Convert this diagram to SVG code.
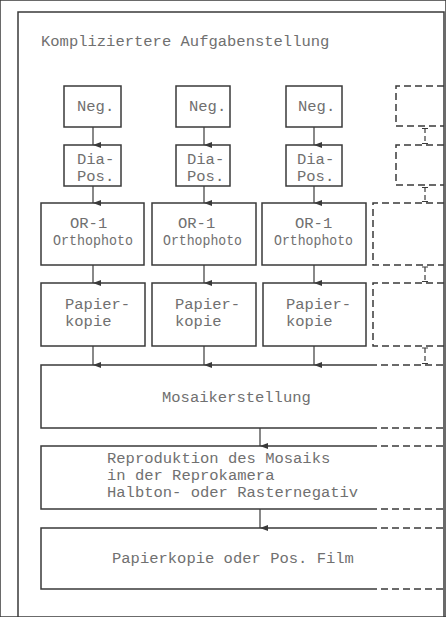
<svg xmlns="http://www.w3.org/2000/svg" width="446" height="617" viewBox="0 0 446 617">
<defs>
<marker id="ah" viewBox="0 0 6 8" refX="3" refY="8" markerWidth="6" markerHeight="8" markerUnits="userSpaceOnUse" orient="auto-start-reverse">
<path d="M0,0 L6,0 L3,8 Z" fill="#3a3a3a"/>
</marker>
<style>
rect, .solid { fill: none; stroke: #3a3a3a; stroke-width: 1.5; }
.dash { fill: none; stroke: #3a3a3a; stroke-width: 1.5; stroke-dasharray: 7 4; }
.tick { fill: none; stroke: #3a3a3a; stroke-width: 1.2; }
.arrow { fill: none; stroke: #3a3a3a; stroke-width: 1.2; }
text { font-family: "Liberation Mono", "Courier New", monospace; font-size: 15.5px; fill: #707070; }
</style>
</defs>
<rect x="0" y="0" width="446" height="617" fill="#fff" stroke="none"/>
<path class="solid" d="M18,617 V12 H444 V617"/>
<text id="title" x="41" y="46">Kompliziertere Aufgabenstellung</text>

<g id="neg1"><rect x="64" y="86" width="57" height="41"/><text x="77" y="111">Neg.</text></g>
<g id="neg2"><rect x="176" y="86" width="54" height="41"/><text x="189" y="111">Neg.</text></g>
<g id="neg3"><rect x="286" y="86" width="56" height="41"/><text x="298" y="111">Neg.</text></g>
<g id="neg4"><path class="dash" d="M444,86 H396 V126 H444"/></g>

<g id="dia1"><rect x="64" y="145" width="57" height="41"/><text x="77" y="164">Dia-</text><text x="77" y="181">Pos.</text></g>
<g id="dia2"><rect x="176" y="145" width="54" height="41"/><text x="187" y="164">Dia-</text><text x="187" y="181">Pos.</text></g>
<g id="dia3"><rect x="286" y="145" width="56" height="41"/><text x="297" y="164">Dia-</text><text x="297" y="181">Pos.</text></g>
<g id="dia4"><path class="dash" d="M444,145 H396 V185 H444"/></g>

<g id="or1"><rect x="41" y="203" width="103" height="62"/><text x="70" y="228">OR-1</text><text x="53" y="245" textLength="80" lengthAdjust="spacingAndGlyphs">Orthophoto</text></g>
<g id="or2"><rect x="152" y="203" width="104" height="62"/><text x="178" y="228">OR-1</text><text x="163" y="245" textLength="79" lengthAdjust="spacingAndGlyphs">Orthophoto</text></g>
<g id="or3"><rect x="262" y="203" width="104" height="62"/><text x="295" y="228">OR-1</text><text x="274" y="245" textLength="79" lengthAdjust="spacingAndGlyphs">Orthophoto</text></g>
<g id="or4"><path class="dash" d="M444,203 H373 V265 H444"/></g>

<g id="pap1"><rect x="41" y="283" width="104" height="63"/><text x="65" y="309">Papier-</text><text x="65" y="326">kopie</text></g>
<g id="pap2"><rect x="152" y="283" width="104" height="63"/><text x="175" y="309">Papier-</text><text x="175" y="326">kopie</text></g>
<g id="pap3"><rect x="263" y="283" width="103" height="63"/><text x="286" y="309">Papier-</text><text x="286" y="326">kopie</text></g>
<g id="pap4"><path class="dash" d="M444,283 H373 V346 H444"/></g>

<g id="mosaik"><path class="solid" d="M370,365 H41 V428 H370"/><path class="dash" d="M370,365 H444 M370,428 H444"/><text x="162" y="402">Mosaikerstellung</text></g>
<g id="repro"><path class="solid" d="M370,446 H41 V509 H370"/><path class="dash" d="M370,446 H444 M370,509 H444"/><text x="107" y="463">Reproduktion des Mosaiks</text><text x="107" y="480">in der Reprokamera</text><text x="107" y="497">Halbton- oder Rasternegativ</text></g>
<g id="film"><path class="solid" d="M370,528 H41 V589 H370"/><path class="dash" d="M370,528 H444 M370,589 H444"/><text x="112" y="563">Papierkopie oder Pos. Film</text></g>

<g id="connectors">
<path class="arrow" marker-end="url(#ah)" d="M93,127 V145"/>
<path class="arrow" marker-end="url(#ah)" d="M204,127 V145"/>
<path class="arrow" marker-end="url(#ah)" d="M314,127 V145"/>
<path class="arrow" marker-end="url(#ah)" d="M93,186 V203"/>
<path class="arrow" marker-end="url(#ah)" d="M204,186 V203"/>
<path class="arrow" marker-end="url(#ah)" d="M314,186 V203"/>
<path class="arrow" marker-end="url(#ah)" d="M93,265 V283"/>
<path class="arrow" marker-end="url(#ah)" d="M204,265 V283"/>
<path class="arrow" marker-end="url(#ah)" d="M314,265 V283"/>
<path class="arrow" marker-end="url(#ah)" d="M93,346 V365"/>
<path class="arrow" marker-end="url(#ah)" d="M204,346 V365"/>
<path class="arrow" marker-end="url(#ah)" d="M314,346 V365"/>
<path class="arrow" marker-end="url(#ah)" d="M260,428 V446"/>
<path class="arrow" marker-end="url(#ah)" d="M260,509 V528"/>
<path class="tick" stroke-dasharray="5 3" d="M425,128 V144"/>
<path class="tick" d="M422,128.5 H428 M422,143.5 H428"/>
<path class="tick" stroke-dasharray="5 3" d="M425,187 V202"/>
<path class="tick" d="M422,187.5 H428 M422,201.5 H428"/>
<path class="tick" stroke-dasharray="5 3" d="M425,267 V282"/>
<path class="tick" d="M422,267 H428 M422,281.5 H428"/>
<path class="tick" stroke-dasharray="5 3" d="M425,348 V364"/>
<path class="tick" d="M422,348 H428 M422,363.5 H428"/>
</g>
</svg>
